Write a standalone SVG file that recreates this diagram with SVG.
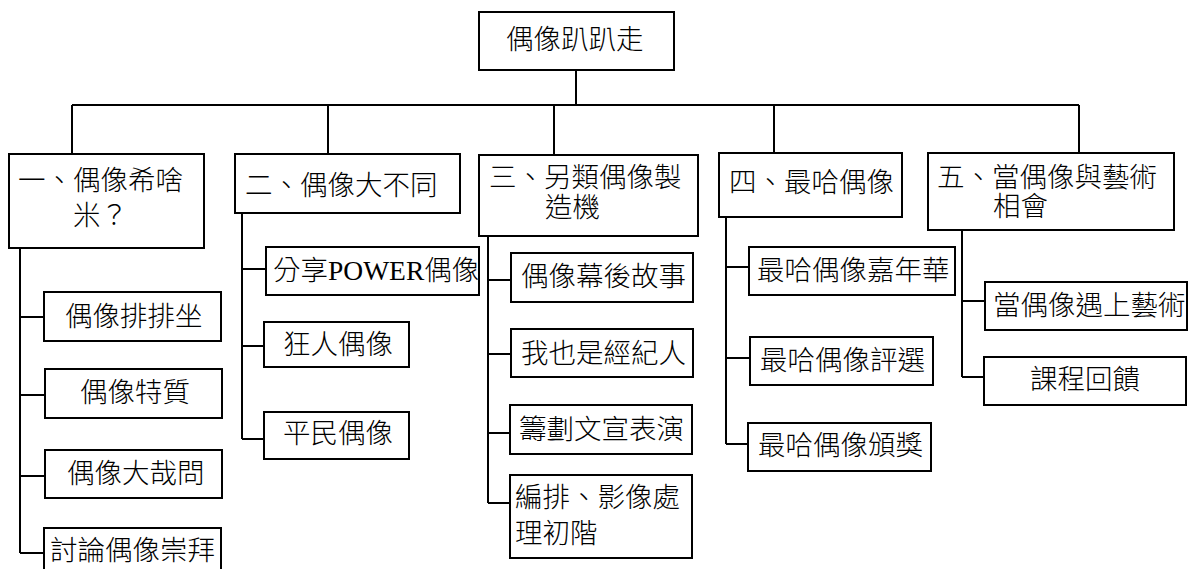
<svg xmlns="http://www.w3.org/2000/svg" width="1199" height="569" viewBox="0 0 1199 569">
<style>
.b{fill:#fff;stroke:#000;stroke-width:2}
.c{fill:none;stroke:#000;stroke-width:2}
text{font-family:"Noto Sans CJK TC","Noto Sans CJK SC",sans-serif;font-size:27.5px;font-weight:300;fill:#000}
.s{font-family:"Liberation Serif",serif;font-weight:400}
</style>
<rect width="1199" height="569" fill="#fff"/>
<g id="connectors">
<path class="c" d="M576 70V105M72 105H1079M72 105V154M328 105V154M554 105V155M774 105V153M1079 105V153"/>
<path class="c" d="M20 248V553M20 317H44M20 395H45M20 476H45M20 553H44"/>
<path class="c" d="M242 213V439M242 269H266M242 346H264M242 439H264"/>
<path class="c" d="M488 236V503M488 280H511M488 354H511M488 433H510M488 503H510"/>
<path class="c" d="M726 217V444M726 267H749M726 358H750M726 444H748"/>
<path class="c" d="M962 230V377M962 301H985M962 377H984"/>
</g>
<g id="root"><rect class="b" x="479" y="12" width="195" height="58"/><text x="506" y="49">偶像趴趴走</text></g>
<g id="n1"><rect class="b" x="9" y="154" width="195" height="94"/><text x="18" y="190">一、偶像希啥<tspan x="73" dy="35">米？</tspan></text></g>
<g id="n2"><rect class="b" x="235" y="154" width="225" height="59"/><text x="245" y="195">二、偶像大不同</text></g>
<g id="n3"><rect class="b" x="479" y="155" width="219" height="81"/><text x="489" y="187">三、另類偶像製<tspan x="545" dy="30">造機</tspan></text></g>
<g id="n4"><rect class="b" x="719" y="153" width="183" height="64"/><text x="729" y="192">四、最哈偶像</text></g>
<g id="n5"><rect class="b" x="928" y="153" width="246" height="77"/><text x="937" y="187">五、當偶像與藝術<tspan x="993" dy="29">相會</tspan></text></g>
<g id="n1a"><rect class="b" x="44" y="292" width="177" height="49"/><text x="65" y="326">偶像排排坐</text></g>
<g id="n1b"><rect class="b" x="45" y="369" width="177" height="49"/><text x="80" y="402">偶像特質</text></g>
<g id="n1c"><rect class="b" x="45" y="450" width="177" height="48"/><text x="67" y="483">偶像大哉問</text></g>
<g id="n1d"><rect class="b" x="44" y="528" width="177" height="50"/><text x="50" y="560">討論偶像崇拜</text></g>
<g id="n2a"><rect class="b" x="266" y="247" width="213" height="48"/><text x="273" y="280">分享<tspan class="s">POWER</tspan>偶像</text></g>
<g id="n2b"><rect class="b" x="264" y="322" width="145" height="45"/><text x="283" y="354">狂人偶像</text></g>
<g id="n2c"><rect class="b" x="264" y="412" width="145" height="47"/><text x="283" y="443">平民偶像</text></g>
<g id="n3a"><rect class="b" x="511" y="253" width="182" height="49"/><text x="521" y="286">偶像幕後故事</text></g>
<g id="n3b"><rect class="b" x="511" y="329" width="182" height="48"/><text x="521" y="363">我也是經紀人</text></g>
<g id="n3c"><rect class="b" x="510" y="405" width="182" height="49"/><text x="519" y="439">籌劃文宣表演</text></g>
<g id="n3d"><rect class="b" x="510" y="475" width="182" height="83"/><text x="515" y="507">編排、影像處<tspan x="515" dy="36">理初階</tspan></text></g>
<g id="n4a"><rect class="b" x="749" y="247" width="206" height="48"/><text x="757" y="280">最哈偶像嘉年華</text></g>
<g id="n4b"><rect class="b" x="750" y="337" width="183" height="48"/><text x="760" y="370">最哈偶像評選</text></g>
<g id="n4c"><rect class="b" x="748" y="423" width="183" height="48"/><text x="758" y="455">最哈偶像頒獎</text></g>
<g id="n5a"><rect class="b" x="985" y="282" width="202" height="48"/><text x="993" y="315">當偶像遇上藝術</text></g>
<g id="n5b"><rect class="b" x="984" y="357" width="202" height="48"/><text x="1030" y="389">課程回饋</text></g>
</svg>
